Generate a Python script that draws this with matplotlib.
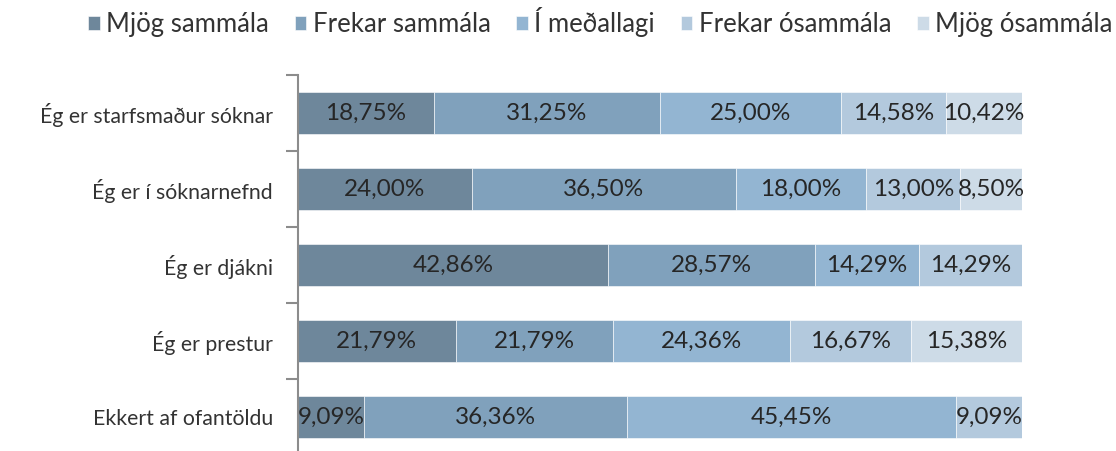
import matplotlib
matplotlib.use("Agg")
import matplotlib.pyplot as plt
import numpy as np

categories = ["Ég er starfsmaður sóknar", "Ég er í sóknarnefnd", "Ég er djákni",
              "Ég er prestur", "Ekkert af ofantöldu"]
series_names = ["Mjög sammála", "Frekar sammála", "Í meðallagi", "Frekar ósammála", "Mjög ósammála"]
mjog_sammala = [18.75, 24.00, 42.86, 21.79, 9.09]
frekar_sammala = [31.25, 36.50, 28.57, 21.79, 36.36]
i_medallagi = [25.00, 18.00, 14.29, 24.36, 45.45]
frekar_osammala = [14.58, 13.00, 14.29, 16.67, 9.09]
mjog_osammala = [10.42, 8.50, 0.0, 15.38, 0.0]

colors = ["#6E879B", "#80A1BC", "#93B5D2", "#B3C9DD", "#CDDBE7"]

plt.rcParams['font.family'] = ['Lato', 'DejaVu Sans']

fig = plt.figure(figsize=(11.16, 4.51), dpi=100)
ax = fig.add_axes([0.267, -0.0089, 0.6487, 0.8426])

series = [mjog_sammala, frekar_sammala, i_medallagi, frekar_osammala, mjog_osammala]
y = np.arange(len(categories))
left = np.zeros(len(categories))
handles = []
for name, vals, c in zip(series_names, series, colors):
    vals = np.array(vals)
    b = ax.barh(y, vals, left=left, height=0.55, color=c, label=name, edgecolor='white', linewidth=0.4)
    handles.append(b)
    for yi, l, v in zip(y, left, vals):
        if v > 0:
            ax.text(l + v / 2, yi, f"{v:.2f}%".replace('.', ','), ha='center', va='center',
                    fontsize=17.5, color='#262626')
    left += vals

ax.set_xlim(0, 100)
ax.set_ylim(len(categories) - 0.5, -0.5)
ax.set_yticks(y)
ax.set_yticklabels(categories, fontsize=15.3, color='#333333')
ax.set_yticks(np.arange(-0.5, len(categories), 1), minor=True)
ax.tick_params(axis='y', which='major', length=0, pad=18)
ax.tick_params(axis='y', which='minor', length=9, width=1.5, color='#8C8C8C')
ax.set_xticks([])
for s in ['top', 'right', 'bottom']:
    ax.spines[s].set_visible(False)
ax.spines['left'].set_color('#8C8C8C')
ax.spines['left'].set_linewidth(1.5)

fig.legend(handles, series_names, loc='center', bbox_to_anchor=(0.538, 0.951), ncol=5,
           frameon=False, fontsize=18.5, handlelength=0.45, handleheight=0.45, handletextpad=0.25,
           columnspacing=1.0, labelcolor='#333333', borderaxespad=0, borderpad=0)

fig.savefig("out.png", dpi=100)
